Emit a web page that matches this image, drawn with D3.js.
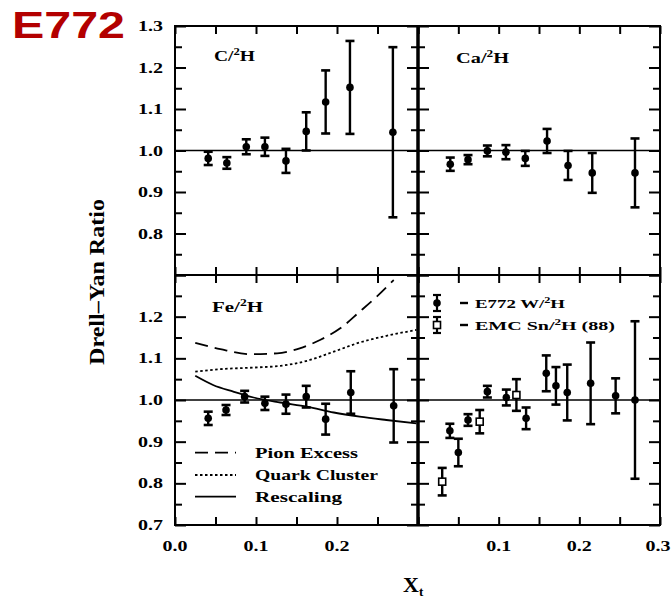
<!DOCTYPE html>
<html>
<head>
<meta charset="utf-8">
<script src="https://cdn.jsdelivr.net/npm/d3@7"></script>
<style>
  body { margin: 0; background: #fff; }
  text { font-family: "Liberation Serif", "DejaVu Serif", serif; font-weight: bold; }
</style>
</head>
<body>
<div id="chart"></div>
<script>
// ---- data ----
// C / 2H
const xC = [0.041, 0.064, 0.088, 0.111, 0.137, 0.162, 0.186, 0.216, 0.269];
const yC = [0.981, 0.970, 1.009, 1.009, 0.975, 1.046, 1.117, 1.152, 1.044];
const eC = [0.016, 0.014, 0.018, 0.022, 0.029, 0.046, 0.076, 0.112, 0.205];
// Ca / 2H
const xCa = [0.040, 0.062, 0.086, 0.109, 0.133, 0.160, 0.186, 0.216, 0.269];
const yCa = [0.967, 0.978, 0.999, 0.996, 0.981, 1.023, 0.964, 0.946, 0.946];
const eCa = [0.016, 0.011, 0.013, 0.017, 0.018, 0.029, 0.035, 0.048, 0.083];
// Fe / 2H
const xFe = [0.041, 0.063, 0.086, 0.111, 0.137, 0.162, 0.186, 0.217, 0.270];
const yFe = [0.956, 0.976, 1.008, 0.992, 0.990, 1.008, 0.954, 1.018, 0.986];
const eFe = [0.016, 0.012, 0.014, 0.016, 0.023, 0.026, 0.037, 0.051, 0.088];
// E772 W / 2H
const xW = [0.0395, 0.050, 0.062, 0.086, 0.1095, 0.134, 0.159, 0.171, 0.185, 0.214, 0.245, 0.269];
const yW = [0.926, 0.874, 0.952, 1.020, 1.006, 0.956, 1.064, 1.034, 1.018, 1.040, 1.010, 1.000];
const eW = [0.017, 0.033, 0.014, 0.014, 0.019, 0.026, 0.043, 0.045, 0.067, 0.098, 0.042, 0.189];
// EMC Sn / 2H
const xSn = [0.030, 0.0765, 0.122];
const ySn = [0.804, 0.948, 1.012];
const eSn = [0.033, 0.028, 0.038];
// model curves (Fe panel)
const pionX = [0.025, 0.056, 0.093, 0.126, 0.154, 0.179, 0.204, 0.228, 0.249, 0.270];
const pionY = [1.137, 1.122, 1.110, 1.112, 1.124, 1.144, 1.172, 1.212, 1.248, 1.288];
const quarkX = [0.025, 0.056, 0.099, 0.130, 0.163, 0.196, 0.228, 0.261, 0.298];
const quarkY = [1.068, 1.074, 1.078, 1.082, 1.094, 1.116, 1.138, 1.154, 1.168];
const rescX = [0.025, 0.047, 0.072, 0.097, 0.130, 0.163, 0.196, 0.228, 0.261, 0.298];
const rescY = [1.058, 1.036, 1.020, 1.006, 0.994, 0.984, 0.970, 0.960, 0.952, 0.944];

const yLabelsTop = ["0.8", "0.9", "1.0", "1.1", "1.2", "1.3"];
const yLabelsBot = ["0.7", "0.8", "0.9", "1.0", "1.1", "1.2"];
const xLabelsLeft = ["0.0", "0.1", "0.2"];
const xLabelsRight = ["0.1", "0.2", "0.3"];
const modelNames = ["Pion Excess", "Quark Cluster", "Rescaling"];

// ---- layout ----
const W = 672, H = 599;
const L = 175, M = 418, R = 660, T = 26, MID = 275, B = 525;

const svg = d3.select("#chart").append("svg").attr("width", W).attr("height", H);

const xl = d3.scaleLinear().domain([0, 0.3]).range([L, M]);
const xr = d3.scaleLinear().domain([0, 0.3]).range([M, R]);
const yt = d3.scaleLinear().domain([0.7, 1.3]).range([MID, T]);
const yb = d3.scaleLinear().domain([0.7, 1.3]).range([B, MID]);

const tickVals = d3.range(0, 0.3001, 0.05);
const yTickVals = d3.range(0.7, 1.3001, 0.05);

function frame(x, y) {
  const g = svg.append("g");
  const [x0, x1] = x.range(), [y1, y0] = y.range();
  // inward x ticks, top and bottom
  g.append("g").attr("transform", `translate(0,${y1})`)
    .call(d3.axisBottom(x).tickValues(tickVals).tickSize(-8).tickFormat(""));
  g.append("g").attr("transform", `translate(0,${y0})`)
    .call(d3.axisTop(x).tickValues(tickVals).tickSize(-8).tickFormat(""));
  // inward y ticks, left and right, longer at the 0.1 marks
  [d3.axisLeft, d3.axisRight].forEach((ax) => {
    const px = ax === d3.axisLeft ? x0 : x1;
    const a = g.append("g").attr("transform", `translate(${px},0)`)
      .call(ax(y).tickValues(yTickVals).tickSize(-7).tickFormat(""));
    a.selectAll(".tick line").filter((d) => Math.abs(Math.round(d * 20) % 2) === 0)
      .attr("x2", ax === d3.axisLeft ? 11 : -11);
  });
  g.selectAll(".domain").remove();
  g.selectAll(".tick line").attr("stroke", "#000").attr("stroke-width", 2);
  g.append("rect").attr("x", x0).attr("y", y0).attr("width", x1 - x0).attr("height", y1 - y0)
    .attr("fill", "none").attr("stroke", "#000").attr("stroke-width", 2);
  g.append("line").attr("x1", x0).attr("x2", x1).attr("y1", y(1)).attr("y2", y(1))
    .attr("stroke", "#000").attr("stroke-width", 1.6);
  return g;
}

function errPoints(x, y, xs, ys, es, open) {
  const g = svg.append("g");
  const pts = xs.map((v, i) => ({ x: v, y: ys[i], e: es[i] }));
  const p = g.selectAll("g").data(pts).join("g");
  p.append("line").attr("x1", (d) => x(d.x)).attr("x2", (d) => x(d.x))
    .attr("y1", (d) => y(d.y - d.e)).attr("y2", (d) => y(d.y + d.e))
    .attr("stroke", "#000").attr("stroke-width", 2.4);
  [-1, 1].forEach((s) => {
    p.append("line").attr("x1", (d) => x(d.x) - 4.5).attr("x2", (d) => x(d.x) + 4.5)
      .attr("y1", (d) => y(d.y + s * d.e)).attr("y2", (d) => y(d.y + s * d.e))
      .attr("stroke", "#000").attr("stroke-width", 2.6);
  });
  if (open) {
    p.append("rect").attr("x", (d) => x(d.x) - 3.5).attr("y", (d) => y(d.y) - 3.5)
      .attr("width", 7).attr("height", 7).attr("fill", "#fff").attr("stroke", "#000").attr("stroke-width", 1.6);
  } else {
    p.append("circle").attr("cx", (d) => x(d.x)).attr("cy", (d) => y(d.y)).attr("r", 3.8).attr("fill", "#000");
  }
}

// text with a superscript 2, stretched to the width seen in the picture
function label(x, y, size, base, tail, len) {
  const t = svg.append("text").attr("x", x).attr("y", y).attr("font-size", size)
    .attr("textLength", len).attr("lengthAdjust", "spacingAndGlyphs");
  t.append("tspan").text(base);
  t.append("tspan").attr("font-size", size * 0.65).attr("dy", -size * 0.4).text("2");
  t.append("tspan").attr("dy", size * 0.4).text(tail);
  return t;
}

frame(xl, yt); frame(xr, yt); frame(xl, yb); frame(xr, yb);
// thick divider
svg.append("line").attr("x1", M).attr("x2", M).attr("y1", T).attr("y2", B)
  .attr("stroke", "#000").attr("stroke-width", 3.5);

errPoints(xl, yt, xC, yC, eC, false);
errPoints(xr, yt, xCa, yCa, eCa, false);
errPoints(xl, yb, xFe, yFe, eFe, false);
errPoints(xr, yb, xW, yW, eW, false);
errPoints(xr, yb, xSn, ySn, eSn, true);

// model curves
const curves = [
  { xs: pionX, ys: pionY, dash: "13,7" },
  { xs: quarkX, ys: quarkY, dash: "2.5,2.5" },
  { xs: rescX, ys: rescY, dash: null }
];
const line = d3.line().x((d) => xl(d[0])).y((d) => yb(d[1])).curve(d3.curveMonotoneX);
curves.forEach((c) => {
  svg.append("path").datum(c.xs.map((v, i) => [v, c.ys[i]]))
    .attr("d", line).attr("fill", "none").attr("stroke", "#000")
    .attr("stroke-width", 1.8).attr("stroke-dasharray", c.dash);
});

// model legend
const legY = [452.7, 475, 496.7];
const legLen = [103, 123, 87];
curves.forEach((c, i) => {
  svg.append("line").attr("x1", 195).attr("x2", 236).attr("y1", legY[i]).attr("y2", legY[i])
    .attr("stroke", "#000").attr("stroke-width", 1.8).attr("stroke-dasharray", c.dash);
  svg.append("text").attr("x", 255).attr("y", legY[i] + 5).attr("font-size", 15)
    .attr("textLength", legLen[i]).attr("lengthAdjust", "spacingAndGlyphs").text(modelNames[i]);
});

// W / Sn legend
const lg = [
  { y: 303, open: false, base: "E772 W/", tail: "H", len: 90 },
  { y: 325, open: true, base: "EMC Sn/", tail: "H (88)", len: 140 }
];
lg.forEach((d) => {
  const cx = 437;
  svg.append("line").attr("x1", cx).attr("x2", cx).attr("y1", d.y - 8).attr("y2", d.y + 8)
    .attr("stroke", "#000").attr("stroke-width", 2.2);
  [-8, 8].forEach((o) => svg.append("line").attr("x1", cx - 4).attr("x2", cx + 4)
    .attr("y1", d.y + o).attr("y2", d.y + o).attr("stroke", "#000").attr("stroke-width", 2.2));
  if (d.open) {
    svg.append("rect").attr("x", cx - 3.5).attr("y", d.y - 3.5).attr("width", 7).attr("height", 7)
      .attr("fill", "#fff").attr("stroke", "#000").attr("stroke-width", 1.6);
  } else {
    svg.append("circle").attr("cx", cx).attr("cy", d.y).attr("r", 3.8).attr("fill", "#000");
  }
  svg.append("line").attr("x1", 460).attr("x2", 468).attr("y1", d.y).attr("y2", d.y)
    .attr("stroke", "#000").attr("stroke-width", 2.4);
  label(475, d.y + 5, 13, d.base, d.tail, d.len);
});

// panel labels
label(214, 61, 15, "C/", "H", 41);
label(456, 63, 15, "Ca/", "H", 53);
label(212, 312, 15, "Fe/", "H", 51);

// tick labels
const yl = svg.append("g").attr("font-size", 14).attr("text-anchor", "end");
yLabelsTop.forEach((s) => yl.append("text").attr("x", 163).attr("y", yt(+s) + 5)
  .attr("textLength", 25).attr("lengthAdjust", "spacingAndGlyphs").text(s));
yLabelsBot.forEach((s) => yl.append("text").attr("x", 163).attr("y", yb(+s) + 5)
  .attr("textLength", 25).attr("lengthAdjust", "spacingAndGlyphs").text(s));
const xlab = svg.append("g").attr("font-size", 14).attr("text-anchor", "middle");
xLabelsLeft.forEach((s) => xlab.append("text").attr("x", xl(+s)).attr("y", 551)
  .attr("textLength", 25).attr("lengthAdjust", "spacingAndGlyphs").text(s));
xLabelsRight.forEach((s) => xlab.append("text").attr("x", Math.min(xr(+s), 658)).attr("y", 551)
  .attr("textLength", 25).attr("lengthAdjust", "spacingAndGlyphs").text(s));

// axis titles
svg.append("text").attr("transform", "translate(104,282) rotate(-90)")
  .attr("text-anchor", "middle").attr("font-size", 21)
  .attr("textLength", 166).attr("lengthAdjust", "spacingAndGlyphs").text("Drell\u2013Yan Ratio");
const xt = svg.append("text").attr("x", 403).attr("y", 592).attr("font-size", 22);
xt.append("tspan").text("X");
xt.append("tspan").attr("font-size", 13).attr("dy", 4).text("t");

// figure tag
svg.append("text").attr("x", 12).attr("y", 38).attr("font-size", 37)
  .attr("textLength", 113).attr("lengthAdjust", "spacingAndGlyphs")
  .style("font-family", "'Liberation Sans', Arial, sans-serif").style("font-weight", "bold")
  .attr("fill", "#b30000").text("E772");
</script>
</body>
</html>
